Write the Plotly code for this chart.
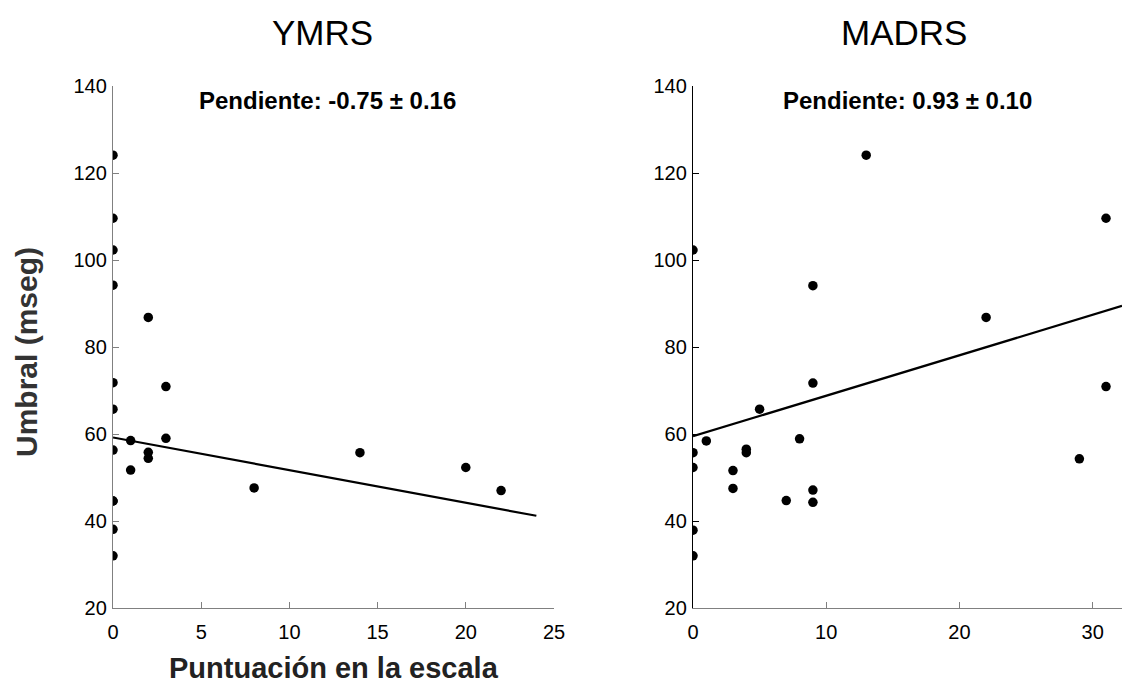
import numpy as np
import plotly.graph_objects as go

# YMRS panel: scale score vs. threshold (ms)
ymrs_score = [0, 0, 0, 0, 0, 0, 0, 0, 0, 0, 0, 1, 1, 2, 2, 2, 3, 3, 8, 14, 20, 22]
ymrs_umbral = [124.1, 109.6, 102.3, 94.2, 71.8, 65.7, 56.3, 44.6, 44.6, 38.1, 32.0,
               58.5, 51.7, 86.8, 55.8, 54.4, 70.9, 59.0, 47.6, 55.7, 52.3, 47.0]
ymrs_slope, ymrs_slope_err, ymrs_intercept = -0.75, 0.16, 59.2
ymrs_fit_x = [0, 24]

# MADRS panel
madrs_score = [0, 0, 0, 0, 0, 1, 3, 3, 4, 4, 5, 7, 8, 9, 9, 9, 9, 13, 22, 29, 31, 31]
madrs_umbral = [102.3, 55.7, 52.3, 37.9, 32.0, 58.4, 51.6, 47.5, 56.5, 55.7, 65.7,
                44.7, 58.9, 94.1, 71.7, 47.1, 44.3, 124.1, 86.8, 54.3, 109.6, 70.9]
madrs_slope, madrs_slope_err, madrs_intercept = 0.93, 0.10, 59.5
madrs_fit_x = [0, 32.2]

y_ticks = [20, 40, 60, 80, 100, 120, 140]
ymrs_x_ticks = [0, 5, 10, 15, 20, 25]
madrs_x_ticks = [0, 10, 20, 30]

W, H = 1122, 689
FONT = "Liberation Sans, Arial, sans-serif"


def px(x):
    return x / W


def py(y):
    return 1 - y / H


fig = go.Figure()

for xs, ys, slope, icpt, fx, xa, ya in [
    (ymrs_score, ymrs_umbral, ymrs_slope, ymrs_intercept, ymrs_fit_x, "x", "y"),
    (madrs_score, madrs_umbral, madrs_slope, madrs_intercept, madrs_fit_x, "x2", "y2"),
]:
    fx = np.array(fx, dtype=float)
    fig.add_trace(go.Scatter(x=fx, y=icpt + slope * fx, mode="lines",
                             line=dict(color="black", width=2.2),
                             xaxis=xa, yaxis=ya, showlegend=False, hoverinfo="skip"))
    fig.add_trace(go.Scatter(x=xs, y=ys, mode="markers",
                             marker=dict(color="black", size=9.5, symbol="circle"),
                             xaxis=xa, yaxis=ya, showlegend=False))

y_dom = [py(608), py(86)]
common_x = dict(showgrid=False, zeroline=False, showline=True, linecolor="#808080",
                linewidth=1.3, ticks="inside", ticklen=6, tickcolor="#808080",
                tickfont=dict(family=FONT, size=20, color="black"),
                ticklabelstandoff=6, automargin=False)
common_y = dict(showgrid=False, zeroline=False, showline=True, linewidth=1.3,
                ticks="inside", ticklen=6, range=[20, 140], tickvals=y_ticks,
                tickfont=dict(family=FONT, size=20, color="black"),
                ticklabelstandoff=1, domain=y_dom, automargin=False)

fig.update_layout(
    width=W, height=H,
    margin=dict(l=0, r=0, t=0, b=0, pad=0, autoexpand=False),
    paper_bgcolor="white", plot_bgcolor="white",
    xaxis=dict(common_x, domain=[px(113), px(554)], range=[0, 25],
               tickvals=ymrs_x_ticks, anchor="y"),
    yaxis=dict(common_y, anchor="x", linecolor="#808080", tickcolor="#808080"),
    xaxis2=dict(common_x, domain=[px(693), 1.0], range=[0, 32.2],
                tickvals=madrs_x_ticks, anchor="y2"),
    yaxis2=dict(common_y, anchor="x2", linecolor="black", tickcolor="black"),
)

ann = [
    dict(text="YMRS", x=px(322), y=py(33), font=dict(family=FONT, size=35, color="black")),
    dict(text="MADRS", x=px(904), y=py(33), font=dict(family=FONT, size=35, color="black")),
    dict(text=f"<b>Pendiente: {ymrs_slope:.2f} ± {ymrs_slope_err:.2f}</b>",
         x=px(327), y=py(101), font=dict(family=FONT, size=24, color="black")),
    dict(text=f"<b>Pendiente: {madrs_slope:.2f} ± {madrs_slope_err:.2f}</b>",
         x=px(907), y=py(101), font=dict(family=FONT, size=24, color="black")),
    dict(text="<b>Umbral (mseg)</b>", x=px(26), y=py(352), textangle=-90,
         font=dict(family=FONT, size=30, color="#333333")),
    dict(text="<b>Puntuación en la escala</b>", x=px(334), y=py(668),
         font=dict(family=FONT, size=29, color="#222222")),
]
for a in ann:
    a.update(xref="paper", yref="paper", showarrow=False,
             xanchor="center", yanchor="middle")
fig.update_layout(annotations=ann)

fig.write_html("out.html")
